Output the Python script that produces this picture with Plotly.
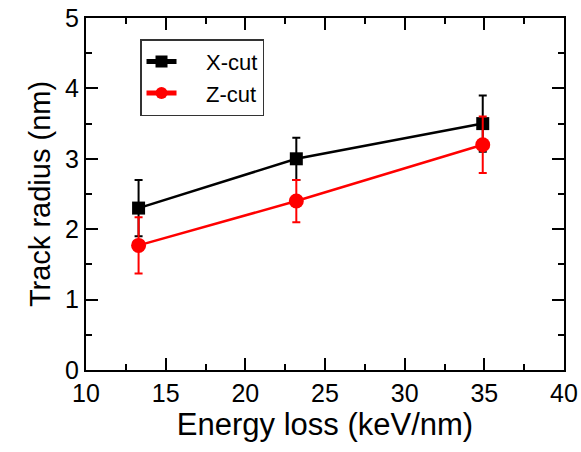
import plotly.graph_objects as go

energy_x = [13.3, 23.2, 34.9]
radius_x = [2.3, 3.0, 3.5]
err_x = [0.4, 0.3, 0.4]

energy_z = [13.3, 23.2, 34.9]
radius_z = [1.77, 2.4, 3.2]
err_z = [0.4, 0.3, 0.4]

FONT = "Liberation Sans, Arial, Helvetica, sans-serif"
PAD = "\u00a0\u00a0\u00a0\u00a0"

fig = go.Figure()
fig.add_trace(go.Scatter(
    x=energy_x, y=radius_x, name=PAD + "X-cut", mode="lines+markers",
    line=dict(color="black", width=2.5),
    marker=dict(symbol="square", size=13, color="black"),
    error_y=dict(type="data", array=err_x, visible=True, color="black", thickness=2, width=4),
))
fig.add_trace(go.Scatter(
    x=energy_z, y=radius_z, name=PAD + "Z-cut", mode="lines+markers",
    line=dict(color="#ff0000", width=2.5),
    marker=dict(symbol="circle", size=15, color="#ff0000"),
    error_y=dict(type="data", array=err_z, visible=True, color="#ff0000", thickness=2, width=4),
))

axis_common = dict(
    showgrid=False, zeroline=False, showline=True, linecolor="black", linewidth=2,
    mirror="allticks", ticks="inside", ticklen=12, tickwidth=2, tickcolor="black",
    tickfont=dict(family=FONT, size=25, color="black"), automargin=False,
)
fig.update_xaxes(range=[10, 40], dtick=5, tick0=10,
                 minor=dict(dtick=2.5, ticks="inside", ticklen=6, tickwidth=2, tickcolor="black"),
                 title=dict(text="Energy loss (keV/nm)", font=dict(family=FONT, size=31, color="black"), standoff=4),
                 **axis_common)
fig.update_yaxes(range=[0, 5], dtick=1, tick0=0,
                 minor=dict(dtick=0.5, ticks="inside", ticklen=6, tickwidth=2, tickcolor="black"),
                 title=dict(text="Track radius (nm)", font=dict(family=FONT, size=29, color="black"), standoff=6),
                 **axis_common)

fig.update_layout(
    width=581, height=452,
    margin=dict(l=86, r=17, t=18, b=82),
    plot_bgcolor="white", paper_bgcolor="white",
    showlegend=True,
    legend=dict(x=0.113, y=0.94, xanchor="left", yanchor="top",
                bgcolor="white", bordercolor="#333", borderwidth=1.5,
                font=dict(family=FONT, size=22, color="black"),
                tracegroupgap=0, itemwidth=30, itemsizing="constant"),
)

post = ("document.body.style.margin='0px';"
        "Plotly.relayout(document.getElementById('{plot_id}'), {width: 581, height: 452});")

fig.write_html("out.html", post_script=post, config={"displayModeBar": False})
